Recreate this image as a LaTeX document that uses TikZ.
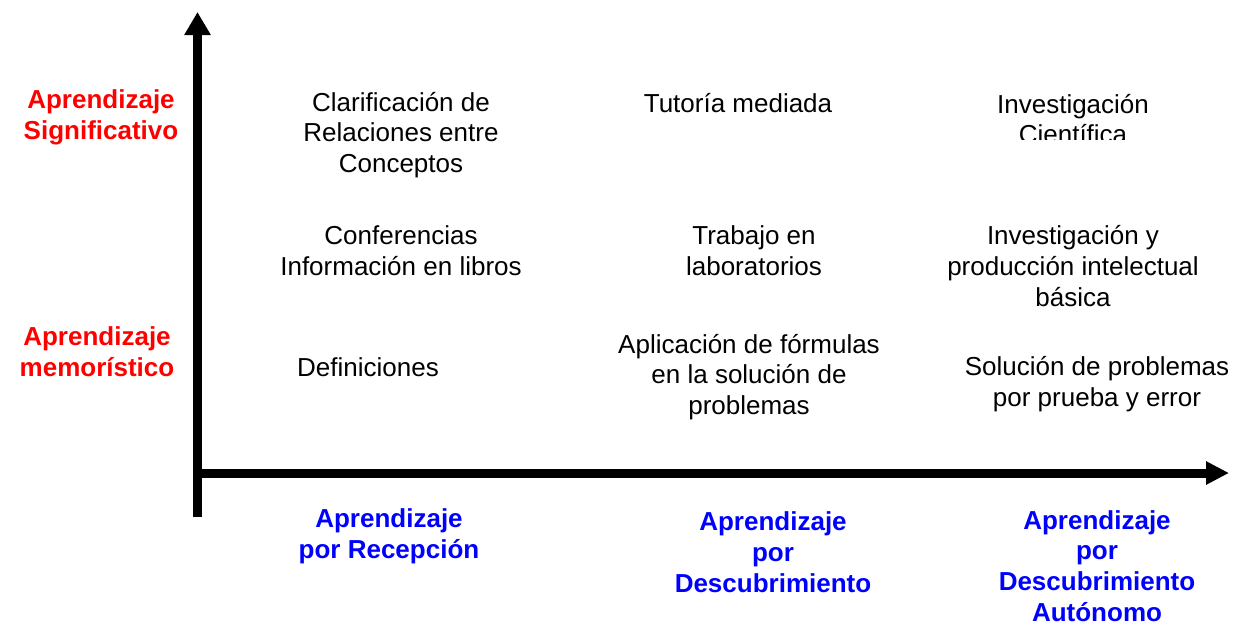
\documentclass[tikz,border=0pt]{standalone}
\usepackage{fontspec}
\setmainfont{Liberation Sans}
\usetikzlibrary{arrows.meta}
\begin{document}
\begin{tikzpicture}[x=1pt,y=-1pt,
  txt/.style={inner sep=0pt,align=center,font=\fontsize{26}{30.7}\selectfont},
  redlab/.style={txt,text=red,font=\fontsize{26}{30.7}\selectfont\bfseries},
  bluelab/.style={txt,text=blue,font=\fontsize{26}{30.7}\selectfont\bfseries},
  axis/.style={line width=9pt}]
\useasboundingbox (0,0) rectangle (1234,622);
\coordinate (o) at (197.5,473);
\coordinate (ybot) at (197.5,517);
\coordinate (ytop) at (197.5,12);
\coordinate (xend) at (1229,473);
\draw[axis,-{Triangle[width=25pt,length=23pt]}] (ybot) -- (ytop);
\draw[axis,-{Triangle[width=22pt,length=23pt]}] (o) -- (xend);

\node[redlab] (sig) at (101,117) {Aprendizaje\\Significativo};
\node[redlab] (mem) at (97,352) {Aprendizaje\\memorístico};

\node[txt] (clar) at (401,135) {Clarificación de\\Relaciones entre\\Conceptos};
\node[txt] (conf) at (401,251) {Conferencias\\Información en libros};
\node[txt] (def) at (368,367) {Definiciones};

\node[txt] (tut) at (738,103) {Tutoría mediada};
\node[txt] (trab) at (754,251) {Trabajo en\\laboratorios};
\node[txt] (apl) at (749,377) {Aplicación de fórmulas\\en la solución de\\problemas};

\begin{scope}
\clip (900,60) rectangle (1234,139);
\node[txt] (inv) at (1073,119) {Investigación\\Científica};
\end{scope}
\node[txt] (invp) at (1073,266) {Investigación y\\producción intelectual\\básica};
\node[txt] (sol) at (1097,384) {Solución de problemas\\por prueba y error};

\node[bluelab] (rec) at (389,536) {Aprendizaje\\por Recepción};
\node[bluelab] (desc) at (773,552) {Aprendizaje\\por\\Descubrimiento};
\node[bluelab] (aut) at (1097,566) {Aprendizaje\\por\\Descubrimiento\\Autónomo};
\end{tikzpicture}
\end{document}
